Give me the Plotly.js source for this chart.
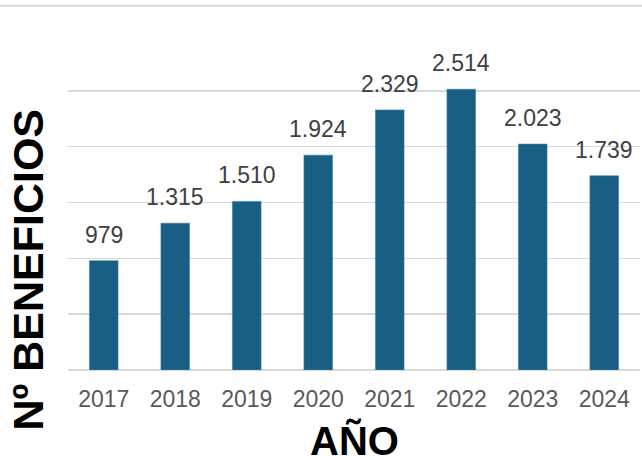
<!DOCTYPE html>
<html>
<head>
<meta charset="utf-8">
<script src="https://cdn.plot.ly/plotly-3.0.1.min.js"></script>
<style>html,body{margin:0;padding:0;background:#fff;}#chart{width:642px;height:460px;}</style>
</head>
<body>
<div id="chart"></div>
<script>
var years = ['2017','2018','2019','2020','2021','2022','2023','2024'];
var beneficios = [979, 1315, 1510, 1924, 2329, 2514, 2023, 1739];
var xTitle = 'AÑO';
var yTitle = 'Nº BENEFICIOS';

function fmt(v){ return String(v).replace(/\B(?=(\d{3})+(?!\d))/g, '.'); }

var trace = {
  type: 'bar', x: years, y: beneficios,
  marker: {color: '#185f83', line: {color: '#3c7fa3', width: 0.6}},
  hoverinfo: 'skip'
};

var anns = years.map(function(y, i){
  return {x: i, y: beneficios[i], xref: 'x', yref: 'y', text: fmt(beneficios[i]),
    showarrow: false, yanchor: 'bottom', yshift: 11,
    font: {family: 'Liberation Sans, Arial, sans-serif', size: 23, color: '#404040'}};
});
anns.push({xref: 'paper', yref: 'paper', x: -0.07, y: 0.30, text: '<b>' + yTitle + '</b>',
  textangle: -90, showarrow: false, xanchor: 'center', yanchor: 'middle',
  font: {family: 'Liberation Sans, Arial, sans-serif', size: 43, color: '#000'}});
anns.push({xref: 'paper', yref: 'paper', x: 0.5, y: -0.138, text: '<b>' + xTitle + '</b>',
  showarrow: false, xanchor: 'center', yanchor: 'top',
  font: {family: 'Liberation Sans, Arial, sans-serif', size: 40, color: '#000'}});

var layout = {
  width: 642, height: 460,
  margin: {l: 68, r: 2, t: 35, b: 90},
  paper_bgcolor: '#fff', plot_bgcolor: '#fff',
  showlegend: false,
  bargap: 0.6,
  xaxis: {type: 'category', range: [-0.5, years.length - 0.5], showgrid: false, zeroline: false, showline: false,
    ticks: '', ticklabelstandoff: 13,
    tickfont: {family: 'Liberation Sans, Arial, sans-serif', size: 23, color: '#595959'}},
  yaxis: {range: [0, 3000], dtick: 500, showgrid: true, gridcolor: '#d9d9d9', gridwidth: 1.5,
    zeroline: true, zerolinecolor: '#d9d9d9', zerolinewidth: 1.5,
    showticklabels: false, ticks: '', showline: false},
  annotations: anns,
  shapes: [{type: 'line', xref: 'paper', yref: 'paper', x0: -0.2, x1: 1.1, y0: 1.087, y1: 1.087,
    line: {color: '#d9d9d9', width: 2}}]
};

Plotly.newPlot('chart', [trace], layout, {displayModeBar: false, staticPlot: true});
</script>
</body>
</html>
